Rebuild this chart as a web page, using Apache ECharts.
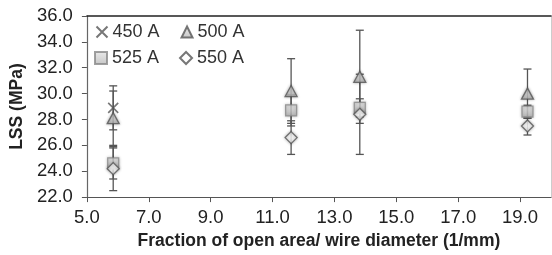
<!DOCTYPE html>
<html>
<head>
<meta charset="utf-8">
<script src="https://cdn.jsdelivr.net/npm/echarts@6/dist/echarts.min.js"></script>
<style>html,body{margin:0;padding:0;background:#fff;}#c{width:552px;height:255px;}</style>
</head>
<body>
<div id="c"></div>
<script>
// Data
const xGroups = [5.85, 11.6, 13.82, 19.24];
const s450 = [28.9, null, null, null];
const s500 = [28.1, 30.2, 31.3, 30.0];
const s525 = [24.6, 28.7, 28.9, 28.6];
const s550 = [24.2, 26.6, 28.4, 27.5];
const e450 = [1.7, null, null, null];
const e500 = [2.1, 2.5, 3.6, 1.9];
const e525 = [1.2, 1.2, 0.7, 0.5];
const e550 = [1.7, 1.3, 3.1, 0.7];
const seriesNames = ['450 A', '500 A', '525 A', '550 A'];

const FONT = 'Liberation Sans, Arial, sans-serif';
const chart = echarts.init(document.getElementById('c'));

function pts(vals) {
  const out = [];
  vals.forEach((v, i) => { if (v != null) out.push([xGroups[i], v]); });
  return out;
}
function errs(vals, es) {
  const out = [];
  vals.forEach((v, i) => { if (v != null && es[i] != null) out.push([xGroups[i], v - es[i], v + es[i]]); });
  return out;
}
const allErr = [].concat(errs(s450, e450), errs(s500, e500), errs(s525, e525), errs(s550, e550));

function errRender(params, api) {
  const x = api.value(0);
  const lo = api.coord([x, api.value(1)]);
  const hi = api.coord([x, api.value(2)]);
  const w = 4;
  const st = { stroke: '#555', lineWidth: 1.3 };
  return {
    type: 'group',
    children: [
      { type: 'line', shape: { x1: lo[0], y1: lo[1], x2: hi[0], y2: hi[1] }, style: st },
      { type: 'line', shape: { x1: lo[0] - w, y1: lo[1], x2: lo[0] + w, y2: lo[1] }, style: st },
      { type: 'line', shape: { x1: hi[0] - w, y1: hi[1], x2: hi[0] + w, y2: hi[1] }, style: st }
    ]
  };
}

const grayGrad = new echarts.graphic.LinearGradient(0, 0, 0, 1, [
  { offset: 0, color: '#e6e6e6' }, { offset: 1, color: '#b8b8b8' }
]);

const markerShadow = { shadowBlur: 3, shadowColor: 'rgba(0,0,0,0.35)' };

const option = {
  animation: false,
  backgroundColor: '#fff',
  textStyle: { fontFamily: FONT },
  grid: { left: 80, right: 1, top: 16, bottom: 51 },
  legend: [
    {
      data: [seriesNames[0], seriesNames[1]],
      left: 94, top: 23, padding: 0, itemWidth: 11, itemHeight: 11, itemGap: 21,
      textStyle: { fontFamily: FONT, fontSize: 18, color: '#333' }
    },
    {
      data: [seriesNames[2], seriesNames[3]],
      left: 94, top: 49, padding: 0, itemWidth: 12, itemHeight: 12, itemGap: 20,
      textStyle: { fontFamily: FONT, fontSize: 18, color: '#333' }
    }
  ],
  xAxis: [
    {
      type: 'value', min: 5, max: 20, interval: 2,
      name: 'Fraction of open area/ wire diameter (1/mm)',
      nameLocation: 'middle', nameGap: 34,
      nameTextStyle: { fontFamily: FONT, fontSize: 17.5, fontWeight: 'bold', color: '#222' },
      axisLine: { show: true, lineStyle: { color: '#555', width: 1.2 } },
      axisTick: { show: true, inside: false, length: 5, lineStyle: { color: '#555' } },
      axisLabel: { fontFamily: FONT, fontSize: 18.5, color: '#222', margin: 11, showMaxLabel: false,
        formatter: v => v.toFixed(1) },
      splitLine: { show: false }
    },
    {
      type: 'value', min: 5, max: 20, position: 'top',
      axisLine: { show: true, lineStyle: { color: '#222', width: 1.5 } },
      axisTick: { show: false }, axisLabel: { show: false }, splitLine: { show: false }
    }
  ],
  yAxis: [
    {
      type: 'value', min: 22, max: 36, interval: 2,
      name: 'LSS (MPa)', nameLocation: 'middle', nameGap: 54,
      nameTextStyle: { fontFamily: FONT, fontSize: 17.5, fontWeight: 'bold', color: '#222' },
      axisLine: { show: true, lineStyle: { color: '#666', width: 1.2 } },
      axisTick: { show: true, inside: false, length: 5, lineStyle: { color: '#555' } },
      axisLabel: { fontFamily: FONT, fontSize: 18.5, color: '#222', margin: 14,
        formatter: v => v.toFixed(1) },
      splitLine: { show: false }
    },
    {
      type: 'value', min: 22, max: 36, position: 'right',
      axisLine: { show: true, lineStyle: { color: '#ccc', width: 1 } },
      axisTick: { show: false }, axisLabel: { show: false }, splitLine: { show: false }
    }
  ],
  series: [
    {
      type: 'custom', name: 'err', renderItem: errRender, data: allErr, z: 1,
      encode: { x: 0, y: [1, 2] }, silent: true
    },
    {
      type: 'scatter', name: seriesNames[0], data: pts(s450), z: 3,
      symbol: 'path://M0,0L10,10M10,0L0,10', symbolSize: 10,
      itemStyle: { color: 'none', borderColor: '#555', borderWidth: 1.6 }
    },
    {
      type: 'scatter', name: seriesNames[1], data: pts(s500), z: 3,
      symbol: 'triangle', symbolSize: [12, 11],
      itemStyle: Object.assign({ color: grayGrad, borderColor: '#555', borderWidth: 1.3 }, markerShadow)
    },
    {
      type: 'scatter', name: seriesNames[2], data: pts(s525), z: 3,
      symbol: 'rect', symbolSize: 11,
      itemStyle: Object.assign({ color: grayGrad, borderColor: '#888', borderWidth: 1.2 }, markerShadow)
    },
    {
      type: 'scatter', name: seriesNames[3], data: pts(s550), z: 4,
      symbol: 'diamond', symbolSize: [12, 12],
      itemStyle: Object.assign({ color: '#fff', borderColor: '#555', borderWidth: 1.3 }, markerShadow)
    }
  ]
};
chart.setOption(option);
</script>
</body>
</html>
